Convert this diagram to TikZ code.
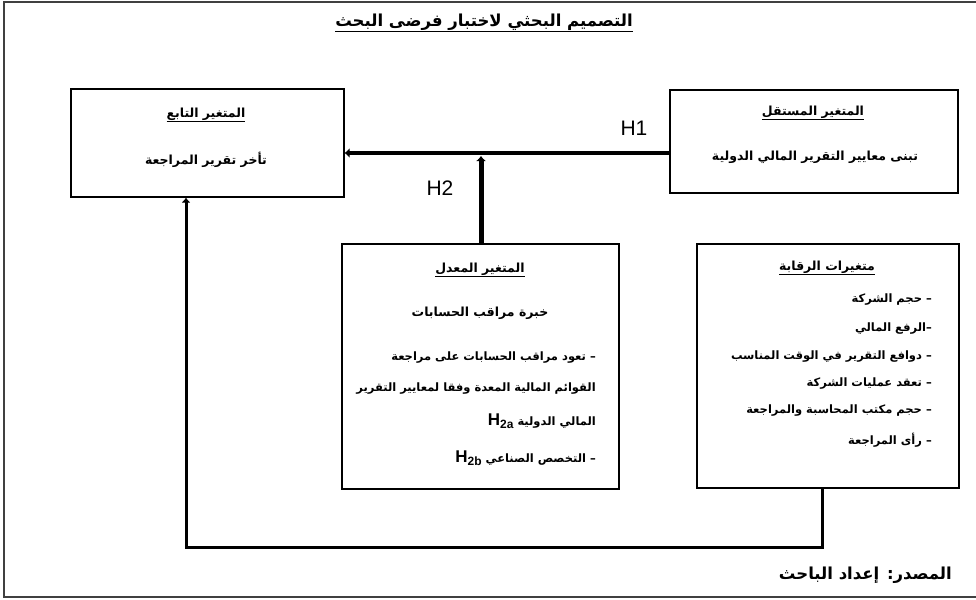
\documentclass[tikz,border=0pt]{standalone}
\usepackage{fontspec}
\usetikzlibrary{arrows.meta}
\TeXXeTstate=1
\newfontfamily\arabicfont[Script=Arabic]{DejaVu Sans}
\newfontfamily\latfont{Liberation Sans}
\newcommand\AR[1]{{\arabicfont\bfseries\beginR #1\endR}}
\newcommand\ARu[1]{\underline{\AR{#1}}}
\newcommand\Hsub[1]{\beginL{\latfont\bfseries\fontsize{17}{18}\selectfont H\raisebox{-3pt}{\fontsize{12}{12}\selectfont #1}}\endL}
\begin{document}
\begin{tikzpicture}[x=1pt,y=-1pt,
  box/.style={draw, line width=1.6pt, rectangle, anchor=north west, inner sep=0pt},
  txt/.style={inner sep=0pt, font=\fontsize{11.5}{12}\selectfont},
  big/.style={inner sep=0pt, font=\fontsize{12.5}{14}\selectfont},
  hlab/.style={inner sep=0pt, font=\latfont\fontsize{21}{23}\selectfont},
  link/.style={line width=4pt, -{Latex[length=5pt,width=10pt]}}]
\useasboundingbox (0,0) rectangle (976,599);
% outer frame
\draw[line width=1.3pt, black!75] (976,2) -- (4,2) -- (4,597) -- (976,597);
% title
\node[inner sep=0pt, font=\fontsize{16.5}{18}\selectfont] (title) at (484,23) {\ARu{التصميم البحثي لاختبار فرضى البحث}};
% boxes
\node[box, minimum width=273pt, minimum height=108pt] (dep) at (70,88) {};
\node[box, minimum width=288pt, minimum height=103pt] (ind) at (669,89) {};
\node[box, minimum width=277pt, minimum height=245pt] (mod) at (341,243) {};
\node[box, minimum width=262pt, minimum height=244pt] (ctl) at (696,243) {};
% dependent
\node[big] (deph) at (206,115) {\ARu{المتغير التابع}};
\node[big] (dept) at (206,160) {\AR{تأخر تقرير المراجعة}};
% independent
\node[big] (indh) at (813,113) {\ARu{المتغير المستقل}};
\node[big] (indt) at (815,157) {\AR{تبنى معايير التقرير المالي الدولية}};
% moderator
\node[big] (modh) at (480,270) {\ARu{المتغير المعدل}};
\node[big] (modt) at (480,313) {\AR{خبرة مراقب الحسابات}};
\node[txt, anchor=east] (m1) at (596,358) {\AR{– تعود مراقب الحسابات على مراجعة}};
\node[txt, anchor=east] (m2) at (596,389) {\AR{القوائم المالية المعدة وفقا لمعايير التقرير}};
\node[txt, anchor=east] (m3) at (596,421) {\AR{المالي الدولية \Hsub{2a}}};
\node[txt, anchor=east] (m4) at (596,458) {\AR{– التخصص الصناعي \Hsub{2b}}};
% control
\node[big] (ctlh) at (827,268) {\ARu{متغيرات الرقابة}};
\node[txt, anchor=east] (c1) at (932,300) {\AR{– حجم الشركة}};
\node[txt, anchor=east] (c2) at (932,329) {\AR{–الرفع المالي}};
\node[txt, anchor=east] (c3) at (932,357) {\AR{– دوافع التقرير في الوقت المناسب}};
\node[txt, anchor=east] (c4) at (932,384) {\AR{– تعقد عمليات الشركة}};
\node[txt, anchor=east] (c5) at (932,411) {\AR{– حجم مكتب المحاسبة والمراجعة}};
\node[txt, anchor=east] (c6) at (932,440) {\AR{– رأى المراجعة}};
% source
\node[inner sep=0pt, anchor=east, font=\fontsize{16.5}{18}\selectfont] (src) at (952,575) {\AR{المصدر: إعداد الباحث}};
% labels
\node[hlab] (h1) at (634,128) {H1};
\node[hlab] (h2) at (440,188) {H2};
% connectors
\coordinate (h1y) at (0,153);
\coordinate (h2top) at (0,156);
\coordinate (fb) at (186,547);
\coordinate (fbx) at (822,0);
\draw[link] (ind.west |- h1y) -- (dep.east |- h1y);
\draw[link, line width=5pt] (mod.north -| 481,0) -- (h2top -| 481,0);
\draw[line width=3pt, -{Latex[length=5pt,width=9pt]}] (ctl.south -| fbx) |- (fb) -- (dep.south -| fb);
\end{tikzpicture}
\end{document}
